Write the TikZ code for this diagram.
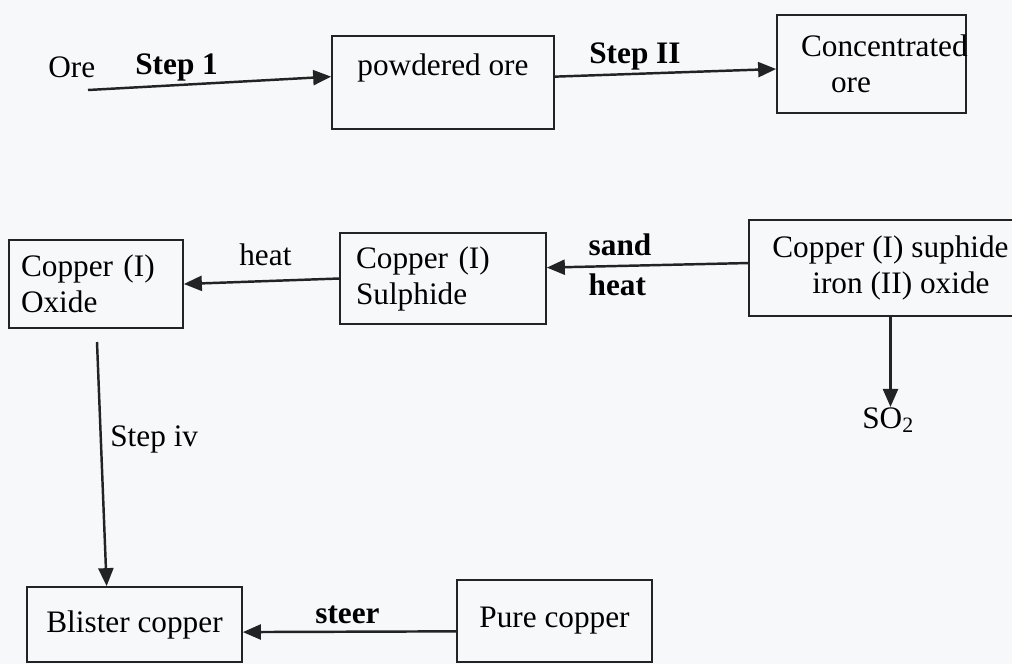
\documentclass[tikz,border=0pt]{standalone}
\usepackage{fontspec}
\setmainfont{Liberation Serif}
\usetikzlibrary{arrows.meta}
\definecolor{paper}{RGB}{247,248,250}
\definecolor{ink}{RGB}{35,35,35}

\begin{document}
\begin{tikzpicture}[x=0.02cm,y=-0.02cm,>={Triangle[length=0.36cm,width=0.3cm]},font=\fontsize{17.8}{20.5}\selectfont]
\tikzstyle{bx}=[draw=ink,line width=1pt,inner sep=0pt,align=left]
\tikzstyle{lb}=[inner sep=0pt,anchor=base west]
\tikzstyle{ar}=[->,draw=ink,line width=1.4pt]
\path[use as bounding box,fill=paper] (0,0) rectangle (1012,664);
\clip (0,0) rectangle (1012,664);
% boxes
\node[bx,minimum width=4.44cm,minimum height=1.86cm,text depth=0.72cm] (po) at (443,82.5) {powdered ore};
\node[bx,minimum width=3.78cm,minimum height=1.96cm,text width=2.82cm] (conc) at (871.5,64) {Concentrated\\\hspace*{0.6cm}ore};
\node[bx,minimum width=3.48cm,minimum height=1.76cm,text width=3.0cm] (oxide) at (96,284) {Copper (I)\\Oxide};
\node[bx,minimum width=4.12cm,minimum height=1.82cm,text width=3.48cm] (sulph) at (443,278.5) {Copper (I)\\Sulphide};
\node[bx,minimum width=5.66cm,minimum height=1.92cm] (mix) at (890.5,268) {Copper (I) suphide\\\hspace*{0.8cm}iron (II) oxide};
\node[bx,minimum width=4.3cm,minimum height=1.5cm] (blister) at (134.5,624.5) {Blister copper};
\node[bx,minimum width=3.9cm,minimum height=1.64cm] (pure) at (554.5,621) {Pure copper};
% labels
\node[lb] (ore) at (48,77) {Ore};
\node[lb] (s1) at (135,74) {\bfseries Step 1};
\node[lb] (s2) at (589,63) {\bfseries Step II};
\node[lb] (heat) at (239,265) {heat};
\node[inner sep=0pt,align=left] (sandheat) at (620,264.7) {\bfseries sand\\[0.08cm]\bfseries heat};
\node[lb] (so2) at (862,428) {SO\textsubscript{2}};
\node[lb] (s4l) at (110,446) {Step iv};
\node[lb] (steer) at (315,623) {\bfseries steer};
\coordinate (os) at (88,90);
\coordinate (s4) at (97,342);
% arrows
\draw[ar] (os) -- (po.177);
\draw[ar] (po.3) -- (conc.183);
\draw[ar] (mix.178) -- (sulph.6);
\draw[ar] (sulph.west) -- (oxide.east);
\draw[ar] (mix.south) -- (mix.south |- so2.north);
\draw[ar] (s4) -- (blister.126);
\draw[ar] (pure.186) -- (blister.356);
\end{tikzpicture}
\end{document}
